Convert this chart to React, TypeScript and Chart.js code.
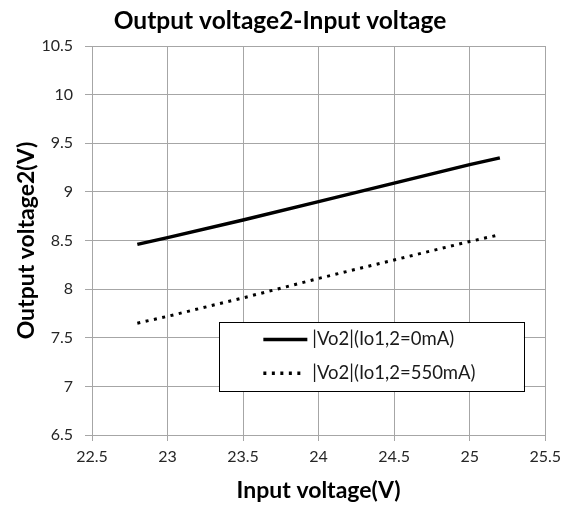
import React, { useEffect, useRef } from "react";
import { Chart, registerables } from "chart.js";

Chart.register(...registerables);

const inputVoltage = [22.8, 23, 23.5, 24, 24.5, 25, 25.2];
const vo2At0mA = [8.46, 8.53, 8.71, 8.9, 9.09, 9.28, 9.35];
const vo2At550mA = [7.65, 7.72, 7.91, 8.11, 8.3, 8.49, 8.56];
const seriesLabels = ["|Vo2|(Io1,2=0mA)", "|Vo2|(Io1,2=550mA)"];

const FONT = "Lato, 'Open Sans', sans-serif";

const boxLegend = {
  id: "boxLegend",
  afterDatasetsDraw(chart: any) {
    const { ctx, chartArea: a } = chart;
    const w = a.right - a.left;
    const h = a.bottom - a.top;
    const x0 = a.left + w * 0.281;
    const x1 = a.left + w * 0.953;
    const y0 = a.top + h * 0.71;
    const y1 = a.top + h * 0.887;
    ctx.save();
    ctx.fillStyle = "#ffffff";
    ctx.fillRect(x0, y0, x1 - x0, y1 - y0);
    ctx.strokeStyle = "#000000";
    ctx.lineWidth = 1;
    ctx.strokeRect(Math.round(x0) + 0.5, Math.round(y0) + 0.5, Math.round(x1 - x0), Math.round(y1 - y0));
    const rows = [y0 + (y1 - y0) * 0.25, y0 + (y1 - y0) * 0.74];
    chart.data.datasets.forEach((ds: any, i: number) => {
      const y = rows[i];
      ctx.beginPath();
      ctx.strokeStyle = "#000";
      ctx.lineWidth = 3.5;
      ctx.setLineDash(ds.borderDash || []);
      ctx.moveTo(x0 + 44, y);
      ctx.lineTo(x0 + (ds.borderDash ? 82 : 88), y);
      ctx.stroke();
      ctx.setLineDash([]);
      ctx.fillStyle = "#1a1a1a";
      ctx.font = `18.5px ${FONT}`;
      ctx.textBaseline = "middle";
      ctx.textAlign = "left";
      ctx.fillText(ds.label, x0 + 93, y);
    });
    ctx.restore();
  },
};

export default function App() {
  const ref = useRef<HTMLCanvasElement>(null);
  useEffect(() => {
    if (!ref.current) return;
    const chart = new Chart(ref.current, {
      type: "line",
      data: {
        datasets: [
          {
            label: seriesLabels[0],
            data: inputVoltage.map((x, i) => ({ x, y: vo2At0mA[i] })),
            borderColor: "#000",
            borderWidth: 3.5,
            pointRadius: 0,
            fill: false,
          },
          {
            label: seriesLabels[1],
            data: inputVoltage.map((x, i) => ({ x, y: vo2At550mA[i] })),
            borderColor: "#000",
            borderWidth: 3,
            borderDash: [3, 5.5],
            pointRadius: 0,
            fill: false,
          },
        ],
      },
      options: {
        animation: false,
        responsive: false,
        devicePixelRatio: 1,
        layout: { padding: { left: 8, right: 15, top: 0, bottom: 0 } },
        plugins: {
          legend: { display: false },
          tooltip: { enabled: false },
          title: {
            display: true,
            text: "Output voltage2-Input voltage",
            color: "#000",
            font: { family: FONT, size: 24.5, weight: "bold", lineHeight: 1 },
            padding: { top: 9, bottom: 12.5 },
          },
        },
        scales: {
          x: {
            type: "linear",
            min: 22.5,
            max: 25.5,
            ticks: {
              stepSize: 0.5,
              color: "#262626",
              font: { family: FONT, size: 16 },
              padding: 6,
              callback: (v: any) => String(v),
            },
            grid: { color: "#a6a6a6", lineWidth: 1, tickLength: 6 },
            border: { color: "#a6a6a6" },
            title: {
              display: true,
              text: "Input voltage(V)",
              color: "#000",
              font: { family: FONT, size: 23, weight: "bold", lineHeight: 1 },
              padding: { top: 0, bottom: 6 },
            },
            afterFit(scale: any) {
              scale.height = 73;
            },
          },
          y: {
            type: "linear",
            min: 6.5,
            max: 10.5,
            ticks: {
              stepSize: 0.5,
              color: "#262626",
              font: { family: FONT, size: 16 },
              padding: 12,
              callback: (v: any) => String(v),
            },
            grid: { color: "#a6a6a6", lineWidth: 1, tickLength: 7 },
            border: { color: "#a6a6a6" },
            title: {
              display: true,
              text: "Output voltage2(V)",
              color: "#000",
              font: { family: FONT, size: 23, weight: "bold", lineHeight: 1 },
              padding: { top: 7, bottom: 0 },
            },
            afterFit(scale: any) {
              scale.width = 84;
            },
          },
        },
      },
      plugins: [boxLegend],
    } as any);
    return () => chart.destroy();
  }, []);
  return (
    <div style={{ position: "fixed", left: 0, top: 0, width: 567, height: 508, background: "#fff" }}>
      <canvas ref={ref} width={567} height={508} style={{ width: 567, height: 508 }} />
    </div>
  );
}
